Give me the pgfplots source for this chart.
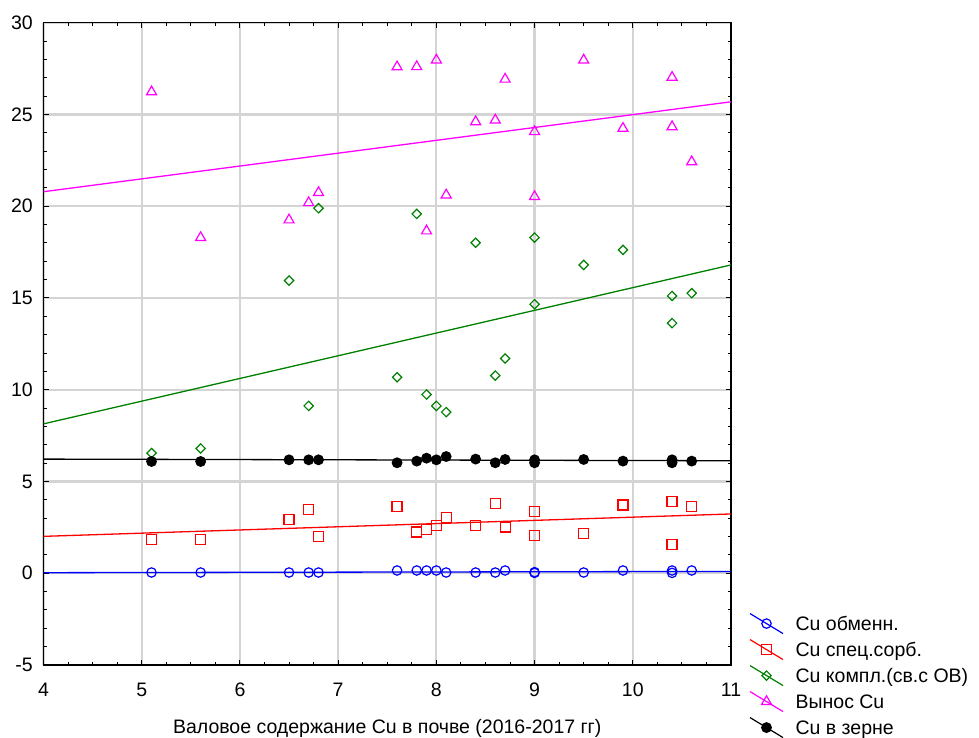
\documentclass[border=0pt]{standalone}
\usepackage{fontspec}
\setmainfont{Liberation Sans}
\usepackage{pgfplots}
\pgfplotsset{compat=1.18}
\usepackage{pgfplotstable}

\definecolor{gridgray}{RGB}{212,212,212}
\definecolor{cugreen}{RGB}{0,128,0}
\definecolor{cumagenta}{RGB}{255,0,255}

% Copper fractions versus total soil copper
\pgfplotstableread{
x     obm   spec  kompl  vynos  zerno
5.1   0.04  1.83  6.55   26.23  6.09
5.6   0.04  1.83  6.80   18.29  6.09
6.5   0.04  2.95  15.95  19.25  6.18
6.7   0.04  3.46  9.12   20.19  6.18
6.8   0.04  2.01  19.89  20.74  6.18
7.6   0.15  3.63  10.68  27.59  6.02
7.8   0.15  2.25  19.58  27.60  6.11
7.9   0.15  2.37  9.74   18.65  6.27
8.0   0.15  2.59  9.12   27.96  6.18
8.1   0.04  3.03  8.78   20.61  6.36
8.4   0.04  2.59  18.01  24.60  6.22
8.6   0.04  3.81  10.77  24.69  6.02
8.7   0.15  2.52  11.70  26.92  6.20
9.0   0.06  3.37  18.29  24.06  6.18
9.0   0.02  2.06  14.66  20.52  6.02
9.5   0.04  2.16  16.80  27.96  6.20
9.9   0.15  3.72  17.62  24.24  6.11
10.4  0.15  3.90  15.11  27.02  6.18
10.4  0.02  1.56  13.63  24.33  6.02
10.6  0.15  3.63  15.26  22.42  6.11
}\cudata

% Linear fits, end points at the x range limits
\pgfplotstableread{
x     obm   spec  kompl  vynos  zerno
4     0.03  2.01  8.14   20.79  6.22
11    0.10  3.23  16.80  25.69  6.13
}\cufit

\newcommand{\lblfont}{\fontsize{19.5}{22}\selectfont}

\begin{document}
\begin{tikzpicture}[x=1pt,y=1pt]
\useasboundingbox (0,0) rectangle (979,737);
\begin{axis}[
  at={(43.5pt,72pt)}, anchor=south west,
  scale only axis, width=687.5pt, height=642.3pt,
  xmin=4, xmax=11, ymin=-5, ymax=30,
  xtick={4,5,...,11}, ytick={-5,0,...,30},
  minor x tick num=3, minor y tick num=4,
  tick align=inside,
  major tick length=5pt, minor tick length=3pt,
  tick style={black, line width=1pt},
  xmajorgrids=true, ymajorgrids=true,
  major grid style={gridgray, line width=2.2pt},
  axis line style={black, line width=1.5pt},
  /pgf/number format/assume math mode=true,
  ticklabel style={font=\lblfont},
  xticklabel style={inner sep=0pt, anchor=north, yshift=-18pt},
  yticklabel style={inner sep=0pt, anchor=east, xshift=-10.5pt},
  xlabel={Валовое содержание Cu в почве (2016-2017 гг)},
  xlabel style={at={(axis description cs:0.5,0)}, anchor=base, yshift=-68pt, font=\lblfont, inner sep=0pt},
  legend cell align=left,
  legend style={
    at={(rel axis cs:1.0268,0.0810)}, anchor=north west,
    draw=none, fill=none, inner sep=0pt, outer sep=0pt,
    row sep=4.4pt, column sep=12pt, font=\lblfont,
    nodes={inner sep=0pt, text height=14pt, text depth=4pt},
  },
  legend image code/.code={
    \draw[#1, line width=1.2pt] (0pt,12pt) -- (33pt,-8pt);
    \draw[#1] plot coordinates {(16.5pt,2pt)};
  },
]
% fitted lines
\addplot[blue, line width=1.3pt, forget plot] table[x=x, y=obm] {\cufit};
\addplot[red, line width=1.3pt, forget plot] table[x=x, y=spec] {\cufit};
\addplot[cugreen, line width=1.3pt, forget plot] table[x=x, y=kompl] {\cufit};
\addplot[cumagenta, line width=1.3pt, forget plot] table[x=x, y=vynos] {\cufit};
\addplot[black, line width=1.3pt, forget plot] table[x=x, y=zerno] {\cufit};

% observations
\addplot[blue, only marks, mark=o, mark size=4.7pt, line width=1.2pt]
  table[x=x, y=obm] {\cudata};
\addlegendentry{Cu обменн.}
\addplot[red, only marks, mark=square, mark size=5pt, line width=1.2pt]
  table[x=x, y=spec] {\cudata};
\addlegendentry{Cu спец.сорб.}
\addplot[cugreen, only marks, mark=square, mark size=3.3pt, mark options={rotate=45}, line width=1.2pt]
  table[x=x, y=kompl] {\cudata};
\addlegendentry{Cu компл.(св.с ОВ)}
\addplot[cumagenta, only marks, mark=triangle, mark size=5.8pt, line width=1.2pt]
  table[x=x, y=vynos] {\cudata};
\addlegendentry{Вынос Cu}
\addplot[black, only marks, mark=*, mark size=4.8pt, line width=1.2pt]
  table[x=x, y=zerno] {\cudata};
\addlegendentry{Cu в зерне}
\end{axis}
\end{tikzpicture}
\end{document}
